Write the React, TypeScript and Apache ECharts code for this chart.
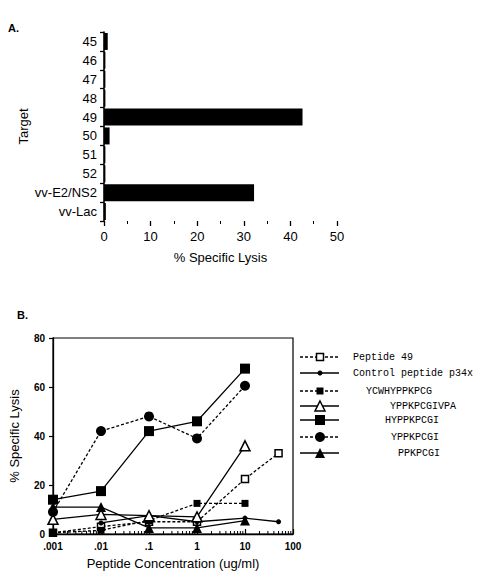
import React, { useEffect, useRef } from "react";
import * as echarts from "echarts";

// Panel A: lysis of targets
const targets = ["45", "46", "47", "48", "49", "50", "51", "52", "vv-E2/NS2", "vv-Lac"];
const lysisByTarget = [0.8, 0.3, 0.3, 0.3, 42.6, 1.2, 0.3, 0.3, 32.2, 0.4];

// Panel B: peptide titration
const concentrations = [0.001, 0.01, 0.1, 1, 10, 50];
const concTickLabels = [".001", ".01", ".1", "1", "10", "100"];
const peptide49 = [0.5, 3, 5, 5, 22.5, 33];
const controlP34x = [null, 4.5, 7.5, 5, 6.5, 5];
const ycwhyppkpcg = [0.5, 1.5, 5.5, 12.5, 12.5, null];
const yppkpcgivpa = [6, 8, 7.5, 7, 36, null];
const hyppkpcgi = [14, 17.5, 42, 46, 67.5, null];
const yppkpcgi = [9, 42, 48, 39, 60.5, null];
const ppkpcgi = [11, 11, 2.5, 2.5, 5.5, null];

type Def = {
  name: string;
  values: (number | null)[];
  dashed: boolean;
  symbol: "rect" | "circle" | "triangle";
  size: number;
  open: boolean;
};

const seriesDefs: Def[] = [
  { name: "Peptide 49", values: peptide49, dashed: true, symbol: "rect", size: 7, open: true },
  { name: "Control peptide p34x", values: controlP34x, dashed: false, symbol: "circle", size: 5, open: false },
  { name: "YCWHYPPKPCG", values: ycwhyppkpcg, dashed: true, symbol: "rect", size: 7, open: false },
  { name: "YPPKPCGIVPA", values: yppkpcgivpa, dashed: false, symbol: "triangle", size: 10, open: true },
  { name: "HYPPKPCGI", values: hyppkpcgi, dashed: false, symbol: "rect", size: 10, open: false },
  { name: "YPPKPCGI", values: yppkpcgi, dashed: true, symbol: "circle", size: 10, open: false },
  { name: "PPKPCGI", values: ppkpcgi, dashed: false, symbol: "triangle", size: 10, open: false },
];

// legend row layout: [row centre y, text start x]
const legendRows: [number, number][] = [
  [357, 353],
  [373, 353],
  [391, 366],
  [406, 390],
  [420, 385],
  [437, 391],
  [453, 398],
];

const SANS = "'Liberation Sans', Arial, sans-serif";
const MONO = "'Liberation Mono', 'Courier New', monospace";
const DASH = [3, 2];

function legendMarker(d: Def, cx: number, cy: number): any {
  const fill = d.open ? "#fff" : "#000";
  const style = { fill, stroke: "#000", lineWidth: d.open ? 1.5 : 0 };
  const s = d.size;
  if (d.symbol === "rect") {
    return { type: "rect", shape: { x: cx - s / 2, y: cy - s / 2, width: s, height: s }, style, z: 10 };
  }
  if (d.symbol === "circle") {
    return { type: "circle", shape: { cx, cy, r: s / 2 }, style, z: 10 };
  }
  return {
    type: "polygon",
    shape: { points: [[cx, cy - s / 2], [cx + s / 2, cy + s / 2], [cx - s / 2, cy + s / 2]] },
    style,
    z: 10,
  };
}

export default function App() {
  const ref = useRef<HTMLDivElement>(null);

  useEffect(() => {
    const chart = echarts.init(ref.current!, null, { renderer: "svg" });

    const option: any = {
      animation: false,
      backgroundColor: "#fff",
      textStyle: { fontFamily: SANS, color: "#000" },
      grid: [
        { left: 104, top: 32, width: 233, height: 189 },
        { left: 52, top: 338, width: 241, height: 196, show: true, borderColor: "#000", borderWidth: 1.2 },
      ],
      xAxis: [
        {
          gridIndex: 0,
          type: "value",
          min: 0,
          max: 50,
          interval: 10,
          name: "% Specific Lysis",
          nameLocation: "middle",
          nameGap: 30,
          nameTextStyle: { fontSize: 13, color: "#000", fontFamily: SANS },
          axisLine: { lineStyle: { color: "#000", width: 1.6 } },
          axisTick: { show: true, length: 5, lineStyle: { color: "#000", width: 1.3 } },
          minorTick: { show: true, splitNumber: 2, length: 3, lineStyle: { color: "#000", width: 1 } },
          axisLabel: { fontSize: 13, color: "#000", margin: 9, fontFamily: SANS },
          splitLine: { show: false },
        },
        {
          gridIndex: 1,
          type: "log",
          logBase: 10,
          min: 0.001,
          max: 100,
          splitNumber: 5,
          name: "Peptide Concentration (ug/ml)",
          nameLocation: "middle",
          nameGap: 23,
          nameTextStyle: { fontSize: 13, color: "#000", fontFamily: SANS },
          axisLine: { lineStyle: { color: "#000", width: 1.3 } },
          axisTick: { show: true, inside: true, length: 5, lineStyle: { color: "#000", width: 1.2 } },
          axisLabel: {
            fontSize: 10,
            fontWeight: "bold",
            color: "#000",
            margin: 7,
            fontFamily: SANS,
            formatter: (v: number) => concTickLabels[Math.round(Math.log10(v)) + 3] ?? "",
          },
          splitLine: { show: false },
        },
      ],
      yAxis: [
        {
          gridIndex: 0,
          type: "category",
          data: targets,
          inverse: true,
          name: "Target",
          nameLocation: "middle",
          nameGap: 74,
          nameRotate: 90,
          nameTextStyle: { fontSize: 13, color: "#000", fontFamily: SANS },
          axisLine: { lineStyle: { color: "#000", width: 1.6 } },
          axisTick: { show: true, length: 4, lineStyle: { color: "#000", width: 1.3 } },
          axisLabel: { fontSize: 13, color: "#000", margin: 7, fontFamily: SANS },
        },
        {
          gridIndex: 1,
          type: "value",
          min: 0,
          max: 80,
          interval: 20,
          name: "% Specific Lysis",
          nameLocation: "middle",
          nameGap: 32,
          nameRotate: 90,
          nameTextStyle: { fontSize: 13, color: "#000", fontFamily: SANS },
          axisLine: { lineStyle: { color: "#000", width: 1.3 } },
          axisTick: { show: true, length: 4, lineStyle: { color: "#000", width: 1.2 } },
          axisLabel: { fontSize: 10, fontWeight: "bold", color: "#000", margin: 8, fontFamily: SANS },
          splitLine: { show: false },
        },
      ],
      series: [
        {
          type: "bar",
          xAxisIndex: 0,
          yAxisIndex: 0,
          data: lysisByTarget,
          barWidth: 17,
          itemStyle: { color: "#000" },
        },
        ...seriesDefs.map((d, i) => ({
          type: "line",
          name: d.name,
          xAxisIndex: 1,
          yAxisIndex: 1,
          data: concentrations
            .map((c, k) => [c, d.values[k]])
            .filter((p) => p[1] !== null && p[1] !== undefined),
          symbol: d.symbol,
          symbolSize: d.size,
          showSymbol: true,
          z: 2 + i,
          lineStyle: { color: "#000", width: 1.3, type: d.dashed ? DASH : "solid" },
          itemStyle: {
            color: d.open ? "#fff" : "#000",
            borderColor: "#000",
            borderWidth: d.open ? 1.5 : 0,
          },
        })),
      ],
    };

    chart.setOption(option);

    // logarithmic minor ticks on the concentration axis
    const elements: any[] = [];
    const yBase = chart.convertToPixel({ yAxisIndex: 1 }, 0) as number;
    for (let e = -3; e <= 1; e++) {
      for (let k = 2; k <= 9; k++) {
        const x = chart.convertToPixel({ xAxisIndex: 1 }, k * Math.pow(10, e)) as number;
        elements.push({
          type: "line",
          shape: { x1: x, y1: yBase, x2: x, y2: yBase - 3 },
          style: { stroke: "#000", lineWidth: 1 },
        });
      }
    }

    // panel letters
    elements.push({
      type: "text",
      x: 8,
      y: 28,
      style: { text: "A.", font: `bold 11px ${SANS}`, fill: "#000", verticalAlign: "middle" },
    });
    elements.push({
      type: "text",
      x: 17,
      y: 315,
      style: { text: "B.", font: `bold 11px ${SANS}`, fill: "#000", verticalAlign: "middle" },
    });

    // legend for panel B
    seriesDefs.forEach((d, i) => {
      const [cy, tx] = legendRows[i];
      elements.push({
        type: "line",
        shape: { x1: 300, y1: cy, x2: 339, y2: cy },
        style: { stroke: "#000", lineWidth: 1.3, lineDash: d.dashed ? DASH : null },
      });
      elements.push(legendMarker(d, 320, cy));
      elements.push({
        type: "text",
        x: tx,
        y: cy,
        style: { text: d.name, font: `10px ${MONO}`, fill: "#000000", verticalAlign: "middle" },
      });
    });

    chart.setOption({ graphic: { elements } });

    return () => chart.dispose();
  }, []);

  return (
    <div
      ref={ref}
      style={{ position: "fixed", left: 0, top: 0, width: 478, height: 574, background: "#fff" }}
    />
  );
}
